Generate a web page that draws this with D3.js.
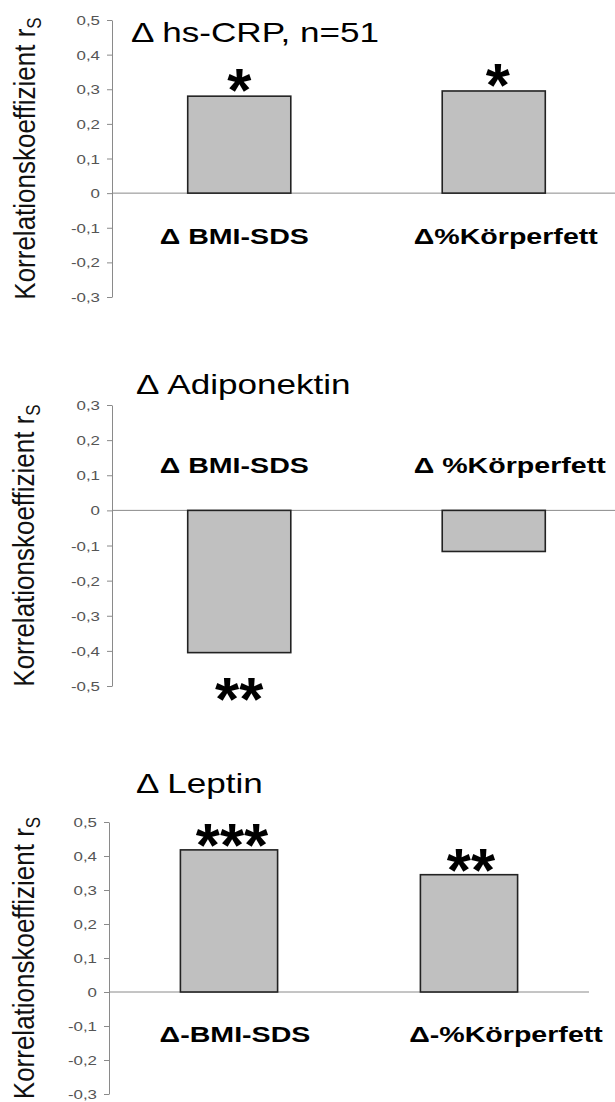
<!DOCTYPE html>
<html>
<head>
<meta charset="utf-8">
<script src="https://cdn.jsdelivr.net/npm/d3@7"></script>
<style>
  html, body { margin: 0; padding: 0; background: #fff; }
  svg { display: block; font-family: "Liberation Sans", Arial, sans-serif; }
</style>
</head>
<body>
<svg id="chart" width="615" height="1102"></svg>
<script>
// ---------- data ----------
const titles = ["Δ hs-CRP, n=51", "Δ Adiponektin", "Δ Leptin"];

const categoriesCRP = ["Δ BMI-SDS", "Δ%Körperfett"];
const valuesCRP = [0.28, 0.295];
const sigCRP = ["*", "*"];

const categoriesAdipo = ["Δ BMI-SDS", "Δ %Körperfett"];
const valuesAdipo = [-0.405, -0.117];
const sigAdipo = ["**", ""];

const categoriesLeptin = ["Δ-BMI-SDS", "Δ-%Körperfett"];
const valuesLeptin = [0.418, 0.345];
const sigLeptin = ["***", "**"];

const ticksCRP = [-0.3, -0.2, -0.1, 0, 0.1, 0.2, 0.3, 0.4, 0.5];
const ticksAdipo = [-0.5, -0.4, -0.3, -0.2, -0.1, 0, 0.1, 0.2, 0.3];
const ticksLeptin = [-0.3, -0.2, -0.1, 0, 0.1, 0.2, 0.3, 0.4, 0.5];

const yAxisTitle = "Korrelationskoeffizient r";
const yAxisSub = "S";

// ---------- layout ----------
const SX = 1.3;   // horizontal stretch of the original picture
const SXY = 1.15; // stretch for rotated axis titles
const panels = [
  { title: titles[0], cats: categoriesCRP, vals: valuesCRP, sig: sigCRP, ticks: ticksCRP,
    yTop: 20, yBot: 297, axisX: 112, width: 509, titleX: 131, titleY: 42,
    labelY: 244, labelDx: [-5, 12], sigPos: "above", sigGap: 5, sigDx: [0, 4], yLabelX: 35 },
  { title: titles[1], cats: categoriesAdipo, vals: valuesAdipo, sig: sigAdipo, ticks: ticksAdipo,
    yTop: 405, yBot: 686, axisX: 112, width: 509, titleX: 136, titleY: 394,
    labelY: 473, labelDx: [-5, 16], sigPos: "below", sigGap: 28, sigDx: [0, 0], yLabelX: 34 },
  { title: titles[2], cats: categoriesLeptin, vals: valuesLeptin, sig: sigLeptin, ticks: ticksLeptin,
    yTop: 822, yBot: 1094, axisX: 109, width: 480, titleX: 136, titleY: 793,
    labelY: 1042, labelDx: [6, 37], sigPos: "above", sigGap: 4, sigDx: [3, 2], yLabelX: 34 }
];

const fmt = v => (Math.round(v * 10) / 10).toString().replace(".", ",");
const svg = d3.select("#chart");
const ASTF = 62;

panels.forEach(p => {
  const g = svg.append("g");
  const y = d3.scaleLinear()
    .domain([d3.min(p.ticks), d3.max(p.ticks)])
    .range([p.yBot, p.yTop]);
  const x = d3.scaleBand()
    .domain(p.cats)
    .range([p.axisX, p.axisX + p.width])
    .paddingInner(0.595)
    .paddingOuter(0.2975);

  // y axis
  const ax = g.append("g")
    .attr("transform", `translate(${p.axisX},0)`)
    .call(d3.axisLeft(y).tickValues(p.ticks).tickFormat(fmt).tickSize(5).tickSizeOuter(0).tickPadding(0));
  ax.select(".domain").attr("stroke", "#8a8a8a");
  ax.selectAll(".tick line").attr("stroke", "#8a8a8a");
  ax.selectAll(".tick text")
    .attr("x", -12 / SX)
    .attr("dy", "0.35em")
    .attr("transform", `scale(${SX},1)`)
    .attr("fill", "#555")
    .style("font-size", "13px")
    .style("font-family", "'Liberation Sans', Arial, sans-serif");

  // zero line
  g.append("line")
    .attr("x1", p.axisX).attr("x2", p.axisX + p.width)
    .attr("y1", y(0)).attr("y2", y(0))
    .attr("stroke", "#8a8a8a").attr("stroke-width", 1);

  // bars
  const data = p.cats.map((c, i) => ({ c, v: p.vals[i], s: p.sig[i], i }));
  g.selectAll("rect.bar").data(data).enter().append("rect")
    .attr("class", "bar")
    .attr("x", d => x(d.c))
    .attr("width", x.bandwidth())
    .attr("y", d => Math.min(y(d.v), y(0)))
    .attr("height", d => Math.abs(y(d.v) - y(0)))
    .attr("fill", "#c0c0c0")
    .attr("stroke", "#222")
    .attr("stroke-width", 1.6);

  // significance stars
  g.selectAll("text.sig").data(data.filter(d => d.s)).enter().append("text")
    .attr("class", "sig")
    .attr("text-anchor", "middle")
    .attr("x", d => x(d.c) + x.bandwidth() / 2 + p.sigDx[d.i])
    .attr("y", d => p.sigPos === "above"
      ? y(d.v) - p.sigGap + 0.32 * ASTF
      : y(d.v) + p.sigGap + 0.64 * ASTF)
    .style("font-size", ASTF + "px")
    .style("font-weight", "bold")
    .attr("fill", "#000")
    .text(d => d.s);

  // category labels
  g.selectAll("text.cat").data(data).enter().append("text")
    .attr("class", "cat")
    .attr("text-anchor", "middle")
    .attr("transform", d => `translate(${x(d.c) + x.bandwidth() / 2 + p.labelDx[d.i]},${p.labelY}) scale(${SX},1)`)
    .style("font-size", "22px")
    .style("font-weight", "bold")
    .attr("fill", "#000")
    .text(d => d.c);

  // title
  g.append("text")
    .attr("transform", `translate(${p.titleX},${p.titleY}) scale(${SX},1)`)
    .style("font-size", "27px")
    .attr("fill", "#000")
    .text(p.title);

  // y axis title
  const yt = g.append("text")
    .attr("text-anchor", "middle")
    .attr("transform", `translate(${p.yLabelX},${(p.yTop + p.yBot) / 2}) scale(${SXY},1) rotate(-90)`)
    .style("font-size", "26px")
    .attr("fill", "#111");
  yt.append("tspan").text(yAxisTitle);
  yt.append("tspan").attr("dy", 5).style("font-size", "17px").text(yAxisSub);
});
</script>
</body>
</html>
